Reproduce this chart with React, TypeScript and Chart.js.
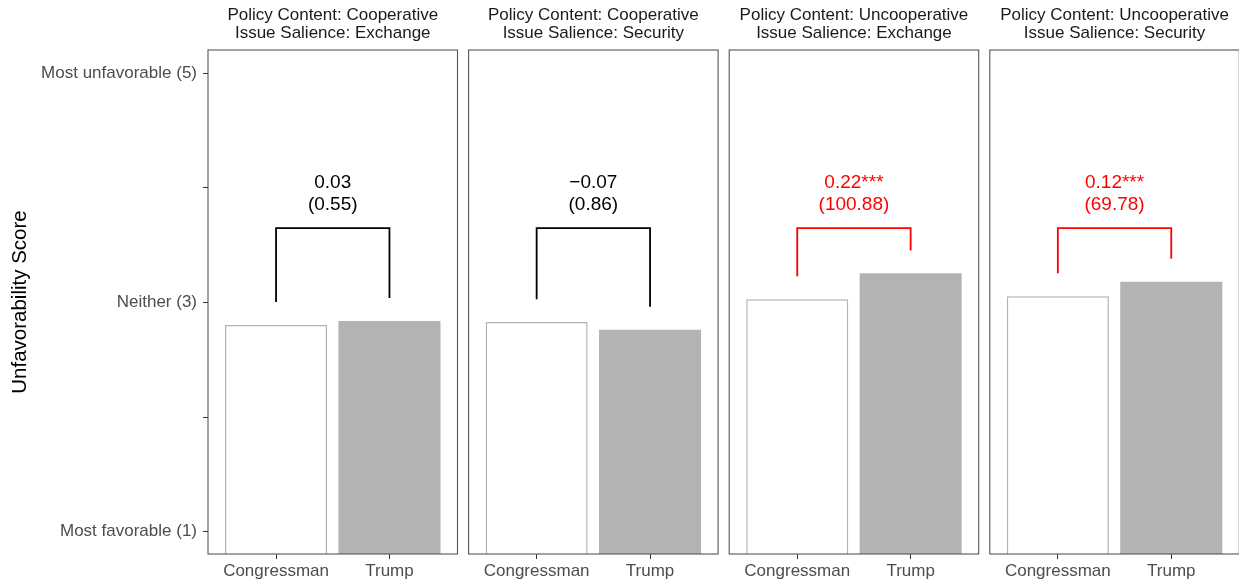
import React, { useEffect, useRef } from 'react';
import { Chart, registerables } from 'chart.js';

Chart.register(...registerables);

// ---- data -------------------------------------------------------------
const categories = ['Congressman', 'Trump'];
const policyContent = ['Cooperative', 'Cooperative', 'Uncooperative', 'Uncooperative'];
const issueSalience = ['Exchange', 'Security', 'Exchange', 'Security'];
const congressmanScores = [2.8, 2.825, 3.025, 3.05];
const trumpScores = [2.835, 2.758, 3.25, 3.177];
const differenceLabels = ['0.03', '\u22120.07', '0.22***', '0.12***'];
const statisticLabels = ['(0.55)', '(0.86)', '(100.88)', '(69.78)'];
const significant = [false, false, true, true];
const yTickValues = [1, 2, 3, 4, 5];
const yTickLabels = ['Most favorable (1)', '', 'Neither (3)', '', 'Most unfavorable (5)'];

// ---- layout & style ---------------------------------------------------
const FONT = '"Liberation Sans", Arial, Helvetica, sans-serif';
const WIDTH = 1239;
const HEIGHT = 582;
const PANEL_TOP = 50;
const PANEL_BOTTOM = 554;
const FIRST_PANEL_LEFT = 208;
const PANEL_STEP = 260.6;
const PANEL_WIDTH = 249.5;
const SIDE_PAD = 4;
// discrete axis expansion: panel spans 0.6 category widths beyond each outer bar centre
const DISCRETE_EXPAND = 0.6;
const INSET = (PANEL_WIDTH / (categories.length - 1 + 2 * DISCRETE_EXPAND)) * (DISCRETE_EXPAND - 0.5);
const TICK_LEN = 5;
const Y_MIN = 0.8;
const Y_MAX = 5.2;
const BRACKET_TOP = 3.645;
const LEG_GAP = 0.2;
const LABEL_LINE_1 = 4.04;
const LABEL_LINE_2 = 3.845;

const BAR_GREY = '#b3b3b3';
const AXIS_GREY = '#333333';
const TEXT_GREY = '#4d4d4d';
const BORDER_GREY = '#555555';

Chart.defaults.font.family = FONT;

function facetPlugin(i: number, withYAxis: boolean) {
  return {
    id: 'facetDecor' + i,
    afterDatasetsDraw(chart: any) {
      const { ctx, scales } = chart;
      const x = scales.x;
      const y = scales.y;
      const colour = significant[i] ? '#ff0000' : '#000000';
      const x1 = x.getPixelForValue(0);
      const x2 = x.getPixelForValue(1);
      const top = y.getPixelForValue(BRACKET_TOP);
      const leg1 = y.getPixelForValue(congressmanScores[i] + LEG_GAP);
      const leg2 = y.getPixelForValue(trumpScores[i] + LEG_GAP);
      ctx.save();
      ctx.strokeStyle = colour;
      ctx.lineWidth = 1.8;
      ctx.beginPath();
      ctx.moveTo(x1, leg1);
      ctx.lineTo(x1, top);
      ctx.lineTo(x2, top);
      ctx.lineTo(x2, leg2);
      ctx.stroke();
      ctx.fillStyle = colour;
      ctx.font = `19px ${FONT}`;
      ctx.textAlign = 'center';
      ctx.textBaseline = 'middle';
      const cx = (x1 + x2) / 2;
      ctx.fillText(differenceLabels[i], cx, y.getPixelForValue(LABEL_LINE_1));
      ctx.fillText(statisticLabels[i], cx, y.getPixelForValue(LABEL_LINE_2));
      ctx.restore();
    },
    afterDraw(chart: any) {
      const { ctx, chartArea, scales } = chart;
      const left = chartArea.left - INSET;
      const right = chartArea.right + INSET;
      const { top, bottom } = chartArea;
      ctx.save();
      // panel border
      ctx.strokeStyle = BORDER_GREY;
      ctx.lineWidth = 1.1;
      ctx.strokeRect(left, top, right - left, bottom - top);
      // y tick marks sit on the panel border
      if (withYAxis) {
        ctx.strokeStyle = AXIS_GREY;
        ctx.lineWidth = 1;
        ctx.beginPath();
        yTickValues.forEach((v) => {
          const py = Math.round(scales.y.getPixelForValue(v)) + 0.5;
          ctx.moveTo(left - TICK_LEN, py);
          ctx.lineTo(left, py);
        });
        ctx.stroke();
      }
      // strip label
      ctx.fillStyle = '#1a1a1a';
      ctx.font = `17px ${FONT}`;
      ctx.textAlign = 'center';
      ctx.textBaseline = 'middle';
      const cx = (left + right) / 2;
      ctx.fillText(`Policy Content: ${policyContent[i]}`, cx, 15.5);
      ctx.fillText(`Issue Salience: ${issueSalience[i]}`, cx, 33.8);
      ctx.restore();
    },
  };
}

function buildConfig(i: number, padLeft: number, padRight: number, withYAxis: boolean): any {
  return {
    type: 'bar',
    data: {
      labels: categories,
      datasets: [
        {
          data: [congressmanScores[i], trumpScores[i]],
          backgroundColor: ['#ffffff', BAR_GREY],
          borderColor: [BAR_GREY, BAR_GREY],
          borderWidth: [1.5, 0],
          categoryPercentage: 1,
          barPercentage: 0.9,
        },
      ],
    },
    options: {
      responsive: false,
      animation: false,
      devicePixelRatio: 1,
      layout: { padding: { top: PANEL_TOP, bottom: 0, left: padLeft, right: padRight } },
      plugins: { legend: { display: false }, tooltip: { enabled: false }, title: { display: false } },
      scales: {
        x: {
          type: 'category',
          offset: true,
          afterFit: (scale: any) => {
            scale.height = HEIGHT - PANEL_BOTTOM;
            scale.paddingLeft = 0;
            scale.paddingRight = 0;
          },
          grid: {
            display: true,
            offset: false,
            drawOnChartArea: false,
            drawTicks: true,
            tickLength: TICK_LEN,
            color: AXIS_GREY,
            lineWidth: 1,
          },
          border: { display: false },
          ticks: {
            autoSkip: false,
            maxRotation: 0,
            padding: 2,
            color: TEXT_GREY,
            font: { size: 17, family: FONT },
          },
        },
        y: {
          type: 'linear',
          display: withYAxis,
          min: Y_MIN,
          max: Y_MAX,
          afterBuildTicks: (scale: any) => {
            scale.ticks = yTickValues.map((v) => ({ value: v }));
          },
          afterFit: (scale: any) => {
            if (withYAxis) {
              scale.width = FIRST_PANEL_LEFT + INSET;
            } else {
              scale.width = 0;
            }
            scale.paddingTop = 0;
            scale.paddingBottom = 0;
          },
          grid: { display: false, drawTicks: false },
          border: { display: false },
          ticks: {
            autoSkip: false,
            padding: INSET + TICK_LEN + 6,
            color: TEXT_GREY,
            font: { size: 17, family: FONT },
            callback: (v: number) => {
              const k = yTickValues.indexOf(v);
              return k >= 0 ? yTickLabels[k] : '';
            },
          },
          title: {
            display: true,
            text: 'Unfavorability Score',
            color: '#000000',
            font: { size: 20.5, family: FONT },
            padding: { top: 8, bottom: 0 },
          },
        },
      },
    },
    plugins: [facetPlugin(i, withYAxis)],
  };
}

function Facet({ index }: { index: number }) {
  const ref = useRef<HTMLCanvasElement>(null);
  const panelLeft = FIRST_PANEL_LEFT + PANEL_STEP * index;
  const panelRight = panelLeft + PANEL_WIDTH;
  const canvasLeft = index === 0 ? 0 : Math.floor(panelLeft) - SIDE_PAD;
  const canvasRight = Math.ceil(panelRight) + SIDE_PAD;
  const canvasWidth = canvasRight - canvasLeft;
  const padLeft = index === 0 ? 0 : panelLeft + INSET - canvasLeft;
  const padRight = canvasRight - panelRight + INSET;

  useEffect(() => {
    if (!ref.current) return;
    const chart = new Chart(ref.current, buildConfig(index, padLeft, padRight, index === 0));
    return () => chart.destroy();
  }, [index, padLeft, padRight]);

  return (
    <canvas
      ref={ref}
      width={canvasWidth}
      height={HEIGHT}
      style={{ position: 'absolute', left: canvasLeft, top: 0, width: canvasWidth, height: HEIGHT }}
    />
  );
}

export default function App() {
  return (
    <div
      style={{
        position: 'fixed',
        left: 0,
        top: 0,
        width: WIDTH,
        height: HEIGHT,
        overflow: 'hidden',
        background: '#ffffff',
      }}
    >
      {policyContent.map((_, i) => (
        <Facet key={i} index={i} />
      ))}
    </div>
  );
}
